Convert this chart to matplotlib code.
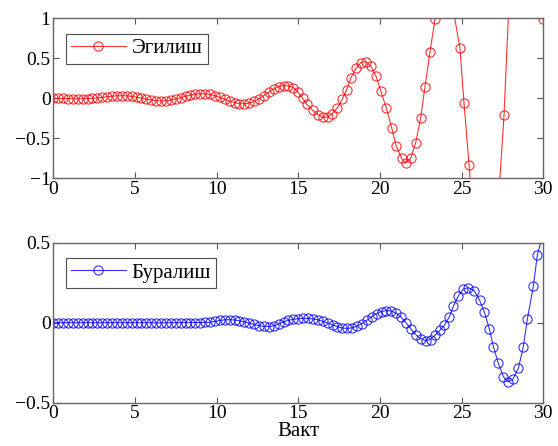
import matplotlib
matplotlib.use("Agg")
import matplotlib.pyplot as plt

plt.rcParams['font.family'] = ['Liberation Serif', 'DejaVu Serif']

# top series: bending (Эгилиш)
bend_t = [0.0, 0.3, 0.6, 0.9, 1.2, 1.5, 1.8, 2.1, 2.4, 2.7, 3.0, 3.3, 3.6, 3.9,
          4.2, 4.5, 4.8, 5.1, 5.4, 5.7, 6.0, 6.3, 6.6, 6.9, 7.2, 7.5, 7.8, 8.1,
          8.4, 8.7, 9.0, 9.3, 9.6, 9.9, 10.2, 10.5, 10.8, 11.1, 11.4, 11.7,
          12.0, 12.3, 12.6, 12.9, 13.2, 13.5, 13.8, 14.1, 14.4, 14.7, 15.0,
          15.27, 15.52, 15.88, 16.23, 16.5, 16.8, 17.09, 17.39, 17.7, 17.97,
          18.23, 18.54, 18.82, 19.15, 19.45, 19.76, 20.05, 20.4, 20.72, 20.99,
          21.33, 21.58, 21.89, 22.19, 22.5, 22.76, 23.07, 23.37, 23.85, 24.3,
          24.9, 25.15, 25.46, 25.8, 26.4, 27.0, 27.6, 28.1, 28.7, 29.4, 30.0]
bend_y = [0.0, 0.0, 0.0, -0.003, -0.005, -0.006, -0.006, -0.004, 0.0, 0.005,
          0.012, 0.02, 0.027, 0.031, 0.033, 0.031, 0.025, 0.015, 0.003, -0.01,
          -0.021, -0.029, -0.033, -0.031, -0.022, -0.008, 0.008, 0.025, 0.04,
          0.051, 0.057, 0.056, 0.048, 0.032, 0.012, -0.012, -0.035, -0.054,
          -0.066, -0.069, -0.06, -0.038, -0.006, 0.035, 0.078, 0.117, 0.146,
          0.16, 0.155, 0.135, 0.075, 0.0, -0.075, -0.15, -0.205, -0.238, -0.235,
          -0.19, -0.12, -0.01, 0.11, 0.26, 0.375, 0.445, 0.46, 0.40, 0.28,
          0.095, -0.125, -0.367, -0.59, -0.75, -0.81, -0.75, -0.555, -0.24,
          0.145, 0.58, 0.99, 1.6, 1.33, 0.63, -0.06, -0.83, -1.8, -2.6, -2.1,
          -0.21, 2.1, 3.4, 2.6, 0.99]

# bottom series: torsion (Буралиш)
tors_t = [0.0, 0.3, 0.6, 0.9, 1.2, 1.5, 1.8, 2.1, 2.4, 2.7, 3.0, 3.3, 3.6, 3.9,
          4.2, 4.5, 4.8, 5.1, 5.4, 5.7, 6.0, 6.3, 6.6, 6.9, 7.2, 7.5, 7.8, 8.1,
          8.4, 8.7, 9.0, 9.3, 9.6, 9.9, 10.2, 10.5, 10.8, 11.1, 11.4, 11.7,
          12.0, 12.3, 12.6, 12.9, 13.2, 13.5, 13.8, 14.1, 14.4, 14.7, 15.0,
          15.3, 15.6, 15.9, 16.2, 16.5, 16.8, 17.1, 17.4, 17.7, 18.0, 18.3,
          18.6, 18.9, 19.2, 19.5, 19.8, 20.1, 20.4, 20.7, 21.0, 21.3, 21.6,
          21.9, 22.2, 22.5, 22.8, 23.1, 23.4, 23.7, 23.95, 24.26, 24.5, 24.8,
          25.1, 25.42, 25.78, 26.1, 26.4, 26.7, 26.95, 27.25, 27.56, 27.83,
          28.13, 28.48, 28.78, 29.03, 29.4, 29.64, 30.0]
tors_y = [0.0, 0.0, 0.0, 0.0, 0.0, 0.0, 0.0, 0.0, 0.0, 0.0, 0.0, 0.0, 0.0, 0.0,
          0.0, 0.0, 0.0, 0.0, 0.0, 0.0, 0.0, -0.001, -0.001, -0.001, 0.0, 0.0,
          0.0, 0.001, 0.001, 0.001, 0.001, 0.002, 0.003, 0.008, 0.014, 0.018,
          0.019, 0.017, 0.012, 0.005, -0.003, -0.011, -0.018, -0.023, -0.024,
          -0.019, -0.008, 0.005, 0.015, 0.021, 0.025, 0.027, 0.027, 0.024,
          0.018, 0.009, -0.002, -0.014, -0.025, -0.033, -0.036, -0.032, -0.022,
          -0.006, 0.015, 0.038, 0.057, 0.07, 0.076, 0.073, 0.06, 0.035, 0.0,
          -0.04, -0.075, -0.1, -0.112, -0.105, -0.076, -0.045, -0.015, 0.038,
          0.104, 0.167, 0.209, 0.219, 0.2, 0.142, 0.065, -0.039, -0.15, -0.254,
          -0.337, -0.369, -0.354, -0.285, -0.15, 0.023, 0.231, 0.423, 0.56]

fig = plt.figure(figsize=(5.58, 4.46), dpi=100)
ax1 = fig.add_axes([0.0955, 0.6002, 0.878, 0.3587])
ax2 = fig.add_axes([0.0955, 0.0971, 0.878, 0.3587])

panels = [
    (ax1, bend_t, bend_y, '#ff0000', 'Эгилиш', (-1, 1), [-1, -0.5, 0, 0.5, 1], ['−1', '−0.5', '0', '0.5', '1']),
    (ax2, tors_t, tors_y, '#0000ff', 'Буралиш', (-0.5, 0.5), [-0.5, 0, 0.5], ['−0.5', '0', '0.5']),
]

for ax, t, y, col, name, ylim, yt, ytl in panels:
    ax.plot(t, y, color=col, lw=0.8, marker='o', ms=6.6, mfc='none',
            mec=col, mew=0.8, label=name, alpha=0.8)
    ax.set_xlim(0, 30)
    ax.set_ylim(*ylim)
    ax.set_xticks([0, 5, 10, 15, 20, 25, 30])
    ax.set_yticks(yt)
    ax.set_yticklabels(ytl)
    ax.tick_params(direction='in', top=True, right=True, length=4,
                   labelsize=14, color='#555555', width=0.8, pad=2)
    for s in ax.spines.values():
        s.set_color('#666666')
        s.set_linewidth(1.0)
    leg = ax.legend(loc='upper left', fontsize=15, frameon=True, fancybox=False,
                    handlelength=2.6, borderpad=0.25, handletextpad=0.3,
                    borderaxespad=0.5, bbox_to_anchor=(0.005, 0.97))
    leg.get_frame().set_edgecolor('#222222')
    leg.get_frame().set_linewidth(0.8)

ax2.set_xlabel('Вакт', fontsize=15, labelpad=0)

fig.savefig('out.png', dpi=100)
